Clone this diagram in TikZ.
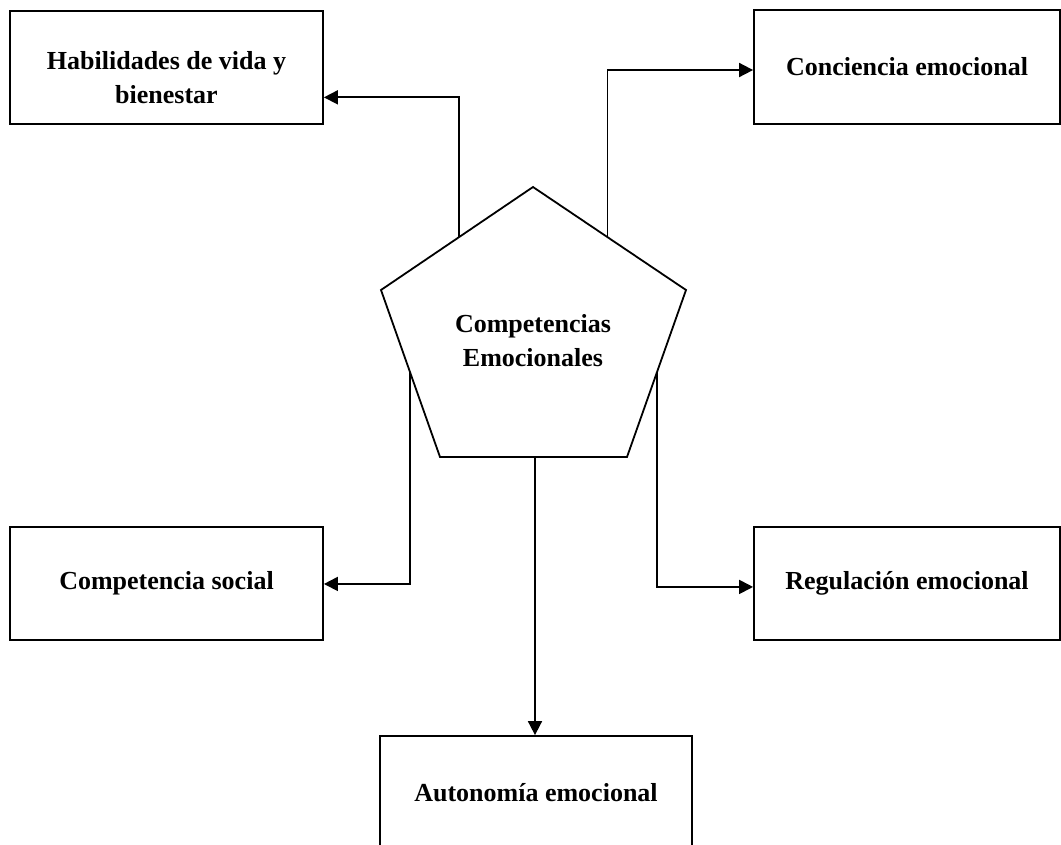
\documentclass[tikz,border=0pt]{standalone}
\usepackage{fontspec}
\setmainfont{Liberation Serif}
\usetikzlibrary{arrows.meta,calc}
\begin{document}
\begin{tikzpicture}[x=1pt,y=-1pt,line width=1.8pt,
  box/.style={draw,rectangle,minimum width=313pt,minimum height=113pt,inner sep=0pt,
    font=\fontsize{26}{34}\selectfont\bfseries,align=center},
  txt/.style={inner sep=0pt,font=\fontsize{26}{34}\selectfont\bfseries,align=center},
  conn/.style={-{Triangle[length=14pt,width=14pt]},line width=1.8pt}]
\clip (0,0) rectangle (1061,845);
\fill[white] (0,0) rectangle (1061,845);
% boxes
\node[box] (hab) at (166.5,67.5) {};
\node[txt] (habt) at (166.5,78) {Habilidades de vida y\\bienestar};
\node[box,minimum width=306pt,minimum height=114pt] (con) at (907,67) {Conciencia emocional};
\node[box] (soc) at (166.5,583.5) {Competencia social};
\node[box,minimum width=306pt] (reg) at (907,583.5) {Regulación emocional};
\node[box,minimum width=312pt] (aut) at (536,792.5) {Autonomía emocional};
% pentagon
\coordinate (pA) at (533,187);
\coordinate (pUR) at (686,290);
\coordinate (pLR) at (627,457);
\coordinate (pLL) at (440,457);
\coordinate (pUL) at (381,290);
\draw (pA) -- (pUR) -- (pLR) -- (pLL) -- (pUL) -- cycle;
\node[txt] (pent) at (533,341) {Competencias\\Emocionales};
% connector start points on the pentagon
\coordinate (e1) at ($(pUL)!0.513!(pA)$);
\coordinate (e2) at ($(pA)!0.487!(pUR)$);
\coordinate (e3) at ($(pUL)!0.49!(pLL)$);
\coordinate (e4) at ($(pUR)!0.49!(pLR)$);
\coordinate (e5) at ($(pLL)!0.508!(pLR)$);
% connector end points on the boxes
\coordinate (t1) at ($(hab.north east)!0.76!(hab.south east)$);
\coordinate (t2) at ($(con.north west)!0.526!(con.south west)$);
\coordinate (t3) at ($(soc.north east)!0.504!(soc.south east)$);
\coordinate (t4) at ($(reg.north west)!0.53!(reg.south west)$);
\draw[conn] (e1) |- (t1);
\draw[conn] (e2) |- (t2);
\draw[conn] (e3) |- (t3);
\draw[conn] (e4) |- (t4);
\draw[conn] (e5) -- (e5 |- aut.north);
\end{tikzpicture}
\end{document}
